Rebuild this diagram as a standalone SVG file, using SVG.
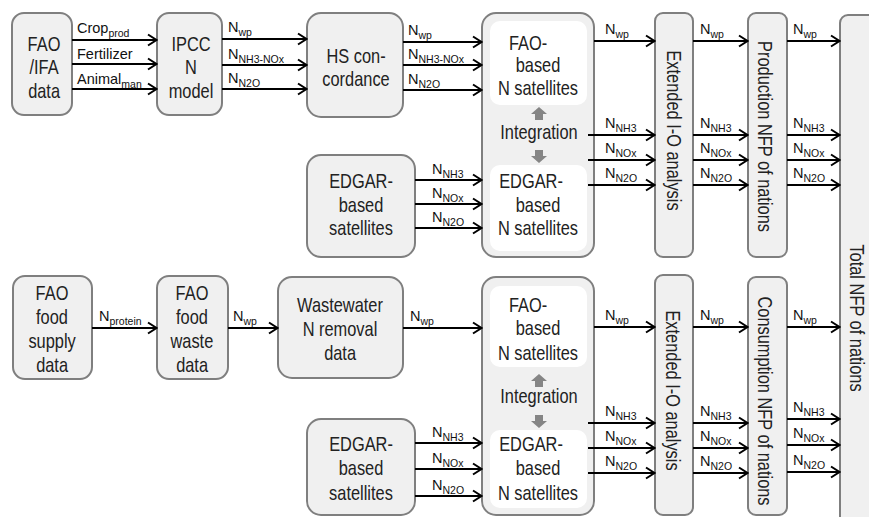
<svg xmlns="http://www.w3.org/2000/svg" width="869" height="517" viewBox="0 0 869 517">
<defs>
<style>
.box{fill:#f0f0f0;stroke:#7f7f7f;stroke-width:2}
.inner{fill:#ffffff;stroke:none}
.t{font-family:"Liberation Sans",Arial,sans-serif;font-size:20px;fill:#222;text-anchor:middle;transform-box:fill-box;transform-origin:center;transform:scaleX(0.82)}
.l{font-family:"Liberation Sans",Arial,sans-serif;font-size:14.5px;fill:#111}
.s{font-size:10.5px}
.c{stroke:#000;stroke-width:2;fill:none;marker-end:url(#ah)}
.g{fill:#858585}
</style>
<marker id="ah" markerUnits="userSpaceOnUse" viewBox="0 0 12 14" refX="11" refY="7" markerWidth="12" markerHeight="14" orient="auto">
<path d="M2,1.5 L10.5,7 L2,12.5" fill="none" stroke="#000" stroke-width="2"/>
</marker>
</defs>
<rect width="869" height="517" fill="#fff"/>

<g id="fao-ifa">
<rect class="box" x="12" y="13" width="60" height="102" rx="12"/>
<text class="t" x="44" y="51">FAO</text>
<text class="t" x="44" y="74">/IFA</text>
<text class="t" x="44" y="98">data</text>
</g>
<g id="ipcc">
<rect class="box" x="157" y="13" width="65" height="102" rx="12"/>
<text class="t" x="191" y="51">IPCC</text>
<text class="t" x="191" y="74">N</text>
<text class="t" x="191" y="98">model</text>
</g>
<g id="hs">
<rect class="box" x="307" y="13" width="96" height="104" rx="14"/>
<text class="t" x="356" y="63">HS con-</text>
<text class="t" x="356" y="86">cordance</text>
</g>
<g id="edgar1">
<rect class="box" x="307" y="155" width="108" height="102" rx="14"/>
<text class="t" x="361" y="188">EDGAR-</text>
<text class="t" x="361" y="212">based</text>
<text class="t" x="361" y="235">satellites</text>
</g>
<g id="sat1">
<rect class="box" x="482" y="13" width="112" height="244" rx="14"/>
<rect class="inner" x="490" y="21" width="97" height="84" rx="10"/>
<text class="t" x="528" y="50">FAO-</text>
<text class="t" x="538" y="72">based</text>
<text class="t" x="538" y="95">N satellites</text>
<polygon class="g" points="539,107 547,114 543,114 543,120 535,120 535,114 531,114"/>
<text class="t" x="539" y="139">Integration</text>
<polygon class="g" points="539,163 547,156 543,156 543,150 535,150 535,156 531,156"/>
<rect class="inner" x="490" y="165" width="97" height="86" rx="10"/>
<text class="t" x="531" y="188">EDGAR-</text>
<text class="t" x="538" y="212">based</text>
<text class="t" x="538" y="235">N satellites</text>
</g>
<g id="ext1">
<rect class="box" x="655" y="13" width="38" height="244" rx="8"/>
<g transform="translate(674,130.5) rotate(90)"><text class="t" x="0" y="7">Extended I-O analysis</text></g>
</g>
<g id="prod">
<rect class="box" x="748" y="13" width="39" height="244" rx="8"/>
<g transform="translate(765,136.5) rotate(90)"><text class="t" x="0" y="7">Production NFP of nations</text></g>
</g>
<g id="total">
<rect class="box" x="840" y="15" width="50" height="520" rx="8"/>
<g transform="translate(857,318) rotate(90)"><text class="t" x="0" y="7">Total NFP of nations</text></g>
</g>

<g id="fao-food">
<rect class="box" x="13" y="276" width="79" height="103" rx="12"/>
<text class="t" x="52" y="300">FAO</text>
<text class="t" x="52" y="324">food</text>
<text class="t" x="52" y="348">supply</text>
<text class="t" x="52" y="372">data</text>
</g>
<g id="fao-waste">
<rect class="box" x="157" y="276" width="71" height="103" rx="12"/>
<text class="t" x="192" y="300">FAO</text>
<text class="t" x="192" y="324">food</text>
<text class="t" x="192" y="348">waste</text>
<text class="t" x="192" y="372">data</text>
</g>
<g id="wastewater">
<rect class="box" x="278" y="277" width="125" height="101" rx="14"/>
<text class="t" x="340" y="312">Wastewater</text>
<text class="t" x="340" y="336">N removal</text>
<text class="t" x="340" y="360">data</text>
</g>
<g id="edgar2">
<rect class="box" x="307" y="419" width="108" height="96" rx="14"/>
<text class="t" x="361" y="451">EDGAR-</text>
<text class="t" x="361" y="475">based</text>
<text class="t" x="361" y="500">satellites</text>
</g>
<g id="sat2">
<rect class="box" x="482" y="277" width="112" height="238" rx="14"/>
<rect class="inner" x="490" y="286" width="97" height="81" rx="10"/>
<text class="t" x="528" y="312">FAO-</text>
<text class="t" x="538" y="335">based</text>
<text class="t" x="538" y="360">N satellites</text>
<polygon class="g" points="539,374 547,381 543,381 543,387 535,387 535,381 531,381"/>
<text class="t" x="539" y="403">Integration</text>
<polygon class="g" points="539,428 547,421 543,421 543,415 535,415 535,421 531,421"/>
<rect class="inner" x="490" y="430" width="97" height="78" rx="10"/>
<text class="t" x="531" y="451">EDGAR-</text>
<text class="t" x="538" y="475">based</text>
<text class="t" x="538" y="500">N satellites</text>
</g>
<g id="ext2">
<rect class="box" x="655" y="275" width="38" height="240" rx="8"/>
<g transform="translate(673,390.5) rotate(90)"><text class="t" x="0" y="7">Extended I-O analysis</text></g>
</g>
<g id="cons">
<rect class="box" x="748" y="277" width="39" height="238" rx="8"/>
<g transform="translate(765,401) rotate(90)"><text class="t" x="0" y="7">Consumption NFP of nations</text></g>
</g>

<g id="connectors">
<line class="c" x1="72" y1="40" x2="157" y2="40"/>
<line class="c" x1="72" y1="64" x2="157" y2="64"/>
<line class="c" x1="72" y1="89" x2="157" y2="89"/>
<line class="c" x1="222" y1="39" x2="307" y2="39"/>
<line class="c" x1="222" y1="65" x2="307" y2="65"/>
<line class="c" x1="222" y1="89" x2="307" y2="89"/>
<line class="c" x1="403" y1="42" x2="482" y2="42"/>
<line class="c" x1="403" y1="65" x2="482" y2="65"/>
<line class="c" x1="403" y1="90" x2="482" y2="90"/>
<line class="c" x1="415" y1="180" x2="482" y2="180"/>
<line class="c" x1="415" y1="204" x2="482" y2="204"/>
<line class="c" x1="415" y1="228" x2="482" y2="228"/>
<line class="c" x1="594" y1="41" x2="655" y2="41"/>
<line class="c" x1="588" y1="135" x2="655" y2="135"/>
<line class="c" x1="588" y1="160" x2="655" y2="160"/>
<line class="c" x1="588" y1="185" x2="655" y2="185"/>
<line class="c" x1="693" y1="41" x2="748" y2="41"/>
<line class="c" x1="693" y1="135" x2="748" y2="135"/>
<line class="c" x1="693" y1="160" x2="748" y2="160"/>
<line class="c" x1="693" y1="185" x2="748" y2="185"/>
<line class="c" x1="787" y1="41" x2="840" y2="41"/>
<line class="c" x1="787" y1="135" x2="840" y2="135"/>
<line class="c" x1="787" y1="160" x2="840" y2="160"/>
<line class="c" x1="787" y1="185" x2="840" y2="185"/>

<line class="c" x1="92" y1="328" x2="157" y2="328"/>
<line class="c" x1="228" y1="328" x2="278" y2="328"/>
<line class="c" x1="403" y1="328" x2="482" y2="328"/>
<line class="c" x1="415" y1="443" x2="482" y2="443"/>
<line class="c" x1="415" y1="469" x2="482" y2="469"/>
<line class="c" x1="415" y1="496" x2="482" y2="496"/>
<line class="c" x1="594" y1="327" x2="655" y2="327"/>
<line class="c" x1="588" y1="423" x2="655" y2="423"/>
<line class="c" x1="588" y1="448" x2="655" y2="448"/>
<line class="c" x1="588" y1="473" x2="655" y2="473"/>
<line class="c" x1="693" y1="327" x2="748" y2="327"/>
<line class="c" x1="693" y1="423" x2="748" y2="423"/>
<line class="c" x1="693" y1="448" x2="748" y2="448"/>
<line class="c" x1="693" y1="473" x2="748" y2="473"/>
<line class="c" x1="787" y1="327" x2="840" y2="327"/>
<line class="c" x1="787" y1="419" x2="840" y2="419"/>
<line class="c" x1="787" y1="445" x2="840" y2="445"/>
<line class="c" x1="787" y1="472" x2="840" y2="472"/>

<text class="l" x="77" y="33">Crop<tspan class="s" dy="3.5">prod</tspan></text>
<text class="l" x="77" y="59">Fertilizer</text>
<text class="l" x="77" y="84">Animal<tspan class="s" dy="3.5">man</tspan></text>
<text class="l" x="228" y="32">N<tspan class="s" dy="3.5">wp</tspan></text>
<text class="l" x="228" y="59">N<tspan class="s" dy="3.5">NH3-NOx</tspan></text>
<text class="l" x="228" y="83">N<tspan class="s" dy="3.5">N2O</tspan></text>
<text class="l" x="408" y="35">N<tspan class="s" dy="3.5">wp</tspan></text>
<text class="l" x="408" y="59">N<tspan class="s" dy="3.5">NH3-NOx</tspan></text>
<text class="l" x="408" y="84">N<tspan class="s" dy="3.5">N2O</tspan></text>
<text class="l" x="432" y="174">N<tspan class="s" dy="3.5">NH3</tspan></text>
<text class="l" x="432" y="198">N<tspan class="s" dy="3.5">NOx</tspan></text>
<text class="l" x="432" y="222">N<tspan class="s" dy="3.5">N2O</tspan></text>
<text class="l" x="605" y="34">N<tspan class="s" dy="3.5">wp</tspan></text>
<text class="l" x="605" y="128">N<tspan class="s" dy="3.5">NH3</tspan></text>
<text class="l" x="605" y="153">N<tspan class="s" dy="3.5">NOx</tspan></text>
<text class="l" x="605" y="178">N<tspan class="s" dy="3.5">N2O</tspan></text>
<text class="l" x="700" y="34">N<tspan class="s" dy="3.5">wp</tspan></text>
<text class="l" x="700" y="128">N<tspan class="s" dy="3.5">NH3</tspan></text>
<text class="l" x="700" y="153">N<tspan class="s" dy="3.5">NOx</tspan></text>
<text class="l" x="700" y="178">N<tspan class="s" dy="3.5">N2O</tspan></text>
<text class="l" x="793" y="34">N<tspan class="s" dy="3.5">wp</tspan></text>
<text class="l" x="793" y="128">N<tspan class="s" dy="3.5">NH3</tspan></text>
<text class="l" x="793" y="153">N<tspan class="s" dy="3.5">NOx</tspan></text>
<text class="l" x="793" y="178">N<tspan class="s" dy="3.5">N2O</tspan></text>

<text class="l" x="99" y="321">N<tspan class="s" dy="3.5">protein</tspan></text>
<text class="l" x="233" y="321">N<tspan class="s" dy="3.5">wp</tspan></text>
<text class="l" x="410" y="321">N<tspan class="s" dy="3.5">wp</tspan></text>
<text class="l" x="432" y="437">N<tspan class="s" dy="3.5">NH3</tspan></text>
<text class="l" x="432" y="463">N<tspan class="s" dy="3.5">NOx</tspan></text>
<text class="l" x="432" y="490">N<tspan class="s" dy="3.5">N2O</tspan></text>
<text class="l" x="605" y="320">N<tspan class="s" dy="3.5">wp</tspan></text>
<text class="l" x="605" y="416">N<tspan class="s" dy="3.5">NH3</tspan></text>
<text class="l" x="605" y="441">N<tspan class="s" dy="3.5">NOx</tspan></text>
<text class="l" x="605" y="466">N<tspan class="s" dy="3.5">N2O</tspan></text>
<text class="l" x="700" y="320">N<tspan class="s" dy="3.5">wp</tspan></text>
<text class="l" x="700" y="416">N<tspan class="s" dy="3.5">NH3</tspan></text>
<text class="l" x="700" y="441">N<tspan class="s" dy="3.5">NOx</tspan></text>
<text class="l" x="700" y="466">N<tspan class="s" dy="3.5">N2O</tspan></text>
<text class="l" x="793" y="320">N<tspan class="s" dy="3.5">wp</tspan></text>
<text class="l" x="793" y="412">N<tspan class="s" dy="3.5">NH3</tspan></text>
<text class="l" x="793" y="438">N<tspan class="s" dy="3.5">NOx</tspan></text>
<text class="l" x="793" y="465">N<tspan class="s" dy="3.5">N2O</tspan></text>
</g>
</svg>
